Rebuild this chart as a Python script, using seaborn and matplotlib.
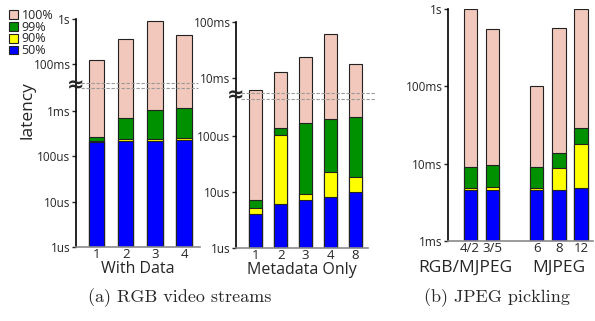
# Latency percentiles: RGB video streams vs JPEG pickling (stacked percentile bars, broken log axis)

import numpy as np
import pandas as pd
import matplotlib
matplotlib.use('Agg')
import matplotlib.pyplot as plt
import matplotlib.transforms as mtransforms
from matplotlib.patches import Patch
from matplotlib.ticker import NullLocator
import seaborn as sns

sns.set_style('ticks')
plt.rcParams['font.family'] = ['Open Sans', 'DejaVu Sans']

# percentile levels, drawn back to front
levels = ['100%', '99%', '90%', '50%']
colors = ['#f1c8bb', '#009100', '#ffff00', '#0000ff']

# (a) With Data  (seconds)
wd_cats = ['1', '2', '3', '4']
wd_p100 = [0.128, 0.37, 0.91, 0.45]
wd_p99 = [260e-6, 700e-6, 1.05e-3, 1.16e-3]
wd_p90 = [216e-6, 240e-6, 235e-6, 250e-6]
wd_p50 = [210e-6, 218e-6, 220e-6, 225e-6]

# (a) Metadata Only
md_cats = ['1', '2', '3', '4', '8']
md_p100 = [6.1e-3, 12.8e-3, 23.5e-3, 62e-3, 17.7e-3]
md_p99 = [7.2e-6, 138e-6, 170e-6, 200e-6, 217e-6]
md_p90 = [5.2e-6, 104e-6, 9.2e-6, 22.6e-6, 18.4e-6]
md_p50 = [4.1e-6, 6.1e-6, 7.2e-6, 8.2e-6, 10e-6]

# (b) JPEG pickling
jp_cats = ['4/2', '3/5', '6', '8', '12']
jp_order = ['4/2', '3/5', '', '6', '8', '12']
jp_p100 = [1.0, 0.55, 0.10, 0.56, 1.0]
jp_p99 = [9.1e-3, 9.7e-3, 9.1e-3, 13.9e-3, 28.5e-3]
jp_p90 = [4.8e-3, 5.0e-3, 4.8e-3, 8.9e-3, 18.2e-3]
jp_p50 = [4.6e-3, 4.6e-3, 4.5e-3, 4.6e-3, 4.9e-3]


def broken_log(a, s=0.02):
    # log10 scale with the decade [a, a+1] squeezed out
    def fwd(v):
        t = np.log10(np.clip(v, 1e-12, None))
        return np.where(t <= a, t, np.where(t >= a + 1, t - 1 + s, a + (t - a) * s))

    def inv(y):
        return 10 ** np.where(y <= a, y, np.where(y >= a + s, y + 1 - s, a + (y - a) / s))
    return fwd, inv


def draw(ax, cats, p100, p99, p90, p50, order, width):
    df = pd.DataFrame({'cat': cats * 4,
                       'level': np.repeat(levels, len(cats)),
                       'value': p100 + p99 + p90 + p50})
    sns.barplot(data=df, x='cat', y='value', hue='level', hue_order=levels,
                palette=colors, order=order, dodge=False, width=width,
                saturation=1, errorbar=None, edgecolor='#222222',
                linewidth=0.8, legend=False, ax=ax)
    ax.set_ylabel('')
    ax.set_xlabel('')
    sns.despine(ax=ax)
    ax.spines['left'].set_linewidth(1.2)
    ax.spines['left'].set_color('black')
    ax.spines['bottom'].set_linewidth(1.2)
    ax.spines['bottom'].set_color('#8a8a8a')
    ax.tick_params(axis='y', direction='out', length=3, width=1, labelsize=8.5, pad=1)
    ax.tick_params(axis='x', length=0, labelsize=9.5, pad=1)
    ax.yaxis.set_minor_locator(NullLocator())


def mark_break(ax, a, extend=1.0):
    ax.text(0, 10 ** (a + 0.5), '\u2248', transform=ax.get_yaxis_transform(),
            ha='center', va='center', fontsize=15, fontweight='bold',
            family='DejaVu Sans')
    for v in [10 ** (a - 0.045), 10 ** (a + 1.045)]:
        ax.axhline(v, xmin=0.04, xmax=extend, color='#9a9a9a', lw=0.8,
                   dashes=(3, 1.5), clip_on=False)


W, H = 595, 321
fig = plt.figure(figsize=(W / 100, H / 100), dpi=100)


def px_axes(x0, x1, ytop, ybot):
    return fig.add_axes([x0 / W, 1 - ybot / H, (x1 - x0) / W, (ybot - ytop) / H])


ax1 = px_axes(76, 200, 19, 247)
ax2 = px_axes(236, 368, 22, 248)
ax3 = px_axes(448, 593, 9, 241)

# With Data
draw(ax1, wd_cats, wd_p100, wd_p99, wd_p90, wd_p50, wd_cats, 0.52)
ax1.set_yscale('function', functions=broken_log(-2.45))
ax1.set_ylim(1e-6, 1)
ax1.set_yticks([1e-6, 1e-5, 1e-4, 1e-3, 1e-1, 1],
               ['1us', '10us', '100us', '1ms', '100ms', '1s'])
ax1.yaxis.set_minor_locator(NullLocator())
ax1.set_xlim(-0.72, 3.55)
ax1.set_xlabel('With Data', fontsize=11.5, labelpad=0)
ax1.set_ylabel('latency', fontsize=12.5)
ax1.yaxis.set_label_coords(-0.33, 0.60)
mark_break(ax1, -2.45, 0.98)

# Metadata Only
draw(ax2, md_cats, md_p100, md_p99, md_p90, md_p50, md_cats, 0.52)
ax2.set_yscale('function', functions=broken_log(-3.3))
ax2.set_ylim(1e-6, 0.1)
ax2.set_yticks([1e-6, 1e-5, 1e-4, 1e-2, 1e-1],
               ['1us', '10us', '100us', '10ms', '100ms'])
ax2.yaxis.set_minor_locator(NullLocator())
ax2.set_xlim(-0.8, 4.52)
ax2.set_xlabel('Metadata Only', fontsize=11.5, labelpad=0)
mark_break(ax2, -3.3, 1.05)

# JPEG pickling
draw(ax3, jp_cats, jp_p100, jp_p99, jp_p90, jp_p50, jp_order, 0.6)
ax3.set_yscale('log')
ax3.set_ylim(1e-3, 1)
ax3.set_yticks([1e-3, 1e-2, 1e-1, 1], ['1ms', '10ms', '100ms', '1s'])
ax3.yaxis.set_minor_locator(NullLocator())
ax3.set_xlim(-1.0, 5.54)
grp = mtransforms.blended_transform_factory(ax3.transData, ax3.transAxes)
ax3.text(-0.2, -0.08, 'RGB/MJPEG', transform=grp, ha='center', va='top', fontsize=12.5)
ax3.text(4, -0.08, 'MJPEG', transform=grp, ha='center', va='top', fontsize=12.5)

# legend
handles = [Patch(facecolor=c, edgecolor='#222222', lw=0.8) for c in colors]
fig.legend(handles, levels, loc='upper left', bbox_to_anchor=(9 / W, 1 - 9 / H),
           frameon=False, fontsize=9, handlelength=0.7, handleheight=0.7,
           handletextpad=0.3, labelspacing=-0.1, borderpad=0, borderaxespad=0)

# captions
fig.text(180 / W, 1 - 298 / H, '(a) RGB video streams', family='cmr10',
         fontsize=13, ha='center', va='center')
fig.text(497 / W, 1 - 298 / H, '(b) JPEG pickling', family='cmr10',
         fontsize=13, ha='center', va='center')

fig.savefig('out.png', dpi=100)
